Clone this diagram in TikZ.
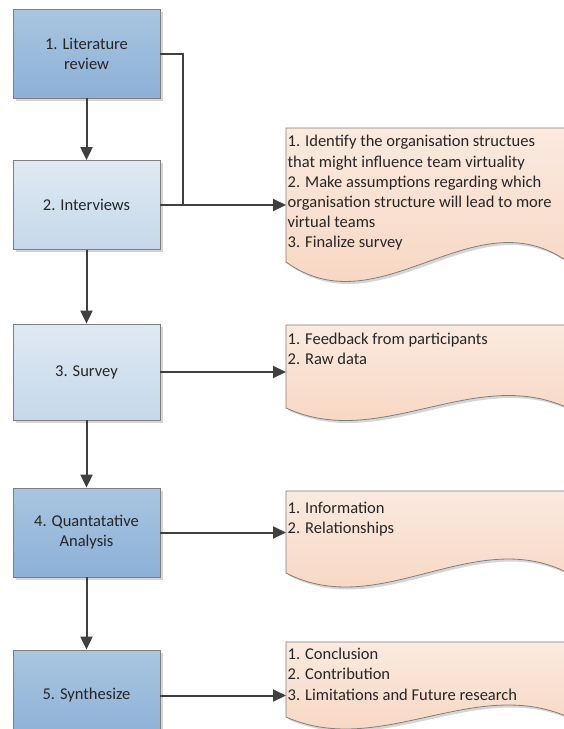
\documentclass[tikz,border=0pt]{standalone}
\usepackage{fontspec}
\setmainfont{Carlito}
\usetikzlibrary{arrows.meta,calc,shadows}

\definecolor{stepDarkTop}{HTML}{A9C6E1}
\definecolor{stepDarkBot}{HTML}{8CB0D6}
\definecolor{stepLightTop}{HTML}{E0E9F3}
\definecolor{stepLightBot}{HTML}{C5D8EA}
\definecolor{docTop}{HTML}{FBEAE0}
\definecolor{docBot}{HTML}{F6D2BA}
\definecolor{edgeGray}{HTML}{7F7F7F}
\definecolor{wireGray}{HTML}{404040}
\definecolor{inkGray}{HTML}{262626}

% document shape with a wavy lower edge, built on an invisible node
% #1 = node name, #2 = wave amplitude (y axis points down)
\newcommand\wavedoc[2]{%
  \fill[black, opacity=0.16]
    ($(#1.north west)+(2.5,2.5)$) -- ($(#1.north east)+(2.5,2.5)$)
    -- ($(#1.south east)+(2.5,2.5)$)
    .. controls ($(#1.south east)+(2.5-94,2.5-3.46*#2)$)
            and ($(#1.south west)+(2.5+94,2.5+3.46*#2)$)
    .. ($(#1.south west)+(2.5,2.5)$) -- cycle;
  \shade[draw=edgeGray, line width=0.8pt, top color=docTop, bottom color=docBot]
    (#1.north west) -- (#1.north east) -- (#1.south east)
    .. controls ($(#1.south east)+(-94,-3.46*#2)$)
            and ($(#1.south west)+(94,3.46*#2)$)
    .. (#1.south west) -- cycle;
}
\newcommand\firstln{\rule{0pt}{14pt}}

\begin{document}
\begin{tikzpicture}[x=1pt, y=-1pt,
  labelfont/.style={font=\fontsize{16.5}{20.1}\selectfont, text=inkGray},
  stepbox/.style={rectangle, draw=edgeGray, line width=0.8pt,
    minimum width=147pt, minimum height=89pt, align=center, labelfont,
    drop shadow={shadow xshift=2.5pt, shadow yshift=-2.5pt, fill=black, opacity=0.16}},
  darkstep/.style={stepbox, top color=stepDarkTop, bottom color=stepDarkBot},
  lightstep/.style={stepbox, top color=stepLightTop, bottom color=stepLightBot},
  docarea/.style={rectangle, anchor=north west, minimum width=282pt,
    inner sep=0pt, outer sep=0pt},
  doctext/.style={anchor=north west, align=left, inner xsep=1.5pt,
    inner ysep=0pt, labelfont},
  flow/.style={draw=wireGray, line width=2pt,
    -{Triangle[length=13pt,width=12pt]}},
  wire/.style={draw=wireGray, line width=2pt}
]
\useasboundingbox (0,0) rectangle (564,729);
\clip (0,0) rectangle (564,729);
\fill[white] (0,0) rectangle (564,729);

% process steps
\node[darkstep]  (b1) at (86.5,53.5)  {1. Literature\\review};
\node[lightstep] (b2) at (86.5,205)   {2. Interviews};
\node[lightstep, minimum height=96pt] (b3) at (86.5,372) {3. Survey};
\node[darkstep]  (b4) at (86.5,532.5) {4. Quantatative\\Analysis};
\node[darkstep, minimum height=91pt] (b5) at (86.5,695.5) {5. Synthesize};

% outcome documents
\node[docarea, minimum height=134pt] (d1) at (286,128) {};
\node[docarea, minimum height=83pt]  (d2) at (286,325) {};
\node[docarea, minimum height=82pt]  (d3) at (286,491) {};
\node[docarea, minimum height=75pt]  (d4) at (286,642) {};
\wavedoc{d1}{19.5}
\wavedoc{d2}{12.5}
\wavedoc{d3}{14}
\wavedoc{d4}{12}

\node[doctext] (t1) at ($(d1.north west)+(0,4.7)$)
  {\firstln 1. Identify the organisation structues\\
   that might influence team virtuality\\
   2. Make assumptions regarding which\\
   organisation structure will lead to more\\
   virtual teams\\
   3. Finalize survey};
\node[doctext] (t2) at ($(d2.north west)+(0,5)$)
  {\firstln 1. Feedback from participants\\2. Raw data};
\node[doctext] (t3) at ($(d3.north west)+(0,8.5)$)
  {\firstln 1. Information\\2. Relationships};
\node[doctext] (t4) at ($(d4.north west)+(0,3.6)$)
  {\firstln 1. Conclusion\\2. Contribution\\3. Limitations and Future research};

% connectors
\coordinate (j1) at ($(b2.east)+(23,0)$);
\draw[flow] (b1.south) -- (b2.north);
\draw[flow] (b2.south) -- (b3.north);
\draw[flow] (b3.south) -- (b4.north);
\draw[flow] (b4.south) -- (b5.north);
\draw[wire] (b1.east) -| (j1);
\draw[flow] (b2.east) -- (b2.east -| d1.west);
\draw[flow] (b3.east) -- (b3.east -| d2.west);
\draw[flow] (b4.east) -- (b4.east -| d3.west);
\draw[flow] (b5.east) -- (b5.east -| d4.west);
\end{tikzpicture}
\end{document}
